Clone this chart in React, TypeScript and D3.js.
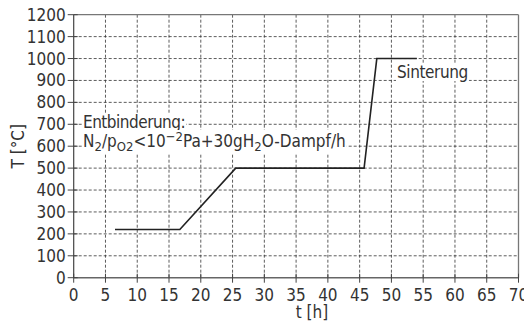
import { useEffect, useRef } from "react";
import * as d3 from "d3";

const times = [6.5, 16.7, 25.5, 45.7, 47.7, 54];
const temps = [220, 220, 500, 500, 1000, 1000];
const xTicks = [0, 5, 10, 15, 20, 25, 30, 35, 40, 45, 50, 55, 60, 65, 70];
const yTicks = [0, 100, 200, 300, 400, 500, 600, 700, 800, 900, 1000, 1100, 1200];

const FONT = "'Liberation Sans Narrow', 'Arial Narrow', 'DejaVu Sans Condensed', sans-serif";

const App = () => {
  const ref = useRef<SVGSVGElement | null>(null);

  useEffect(() => {
    if (!ref.current) return;
    const width = 524;
    const height = 324;
    const svg = d3.select(ref.current);
    svg.selectAll("*").remove();
    svg.attr("width", width).attr("height", height);

    const x = d3.scaleLinear().domain([0, 70]).range([73.7, 518.5]);
    const y = d3.scaleLinear().domain([0, 1200]).range([277.7, 14.7]);

    svg.append("rect").attr("width", width).attr("height", height).attr("fill", "#fff");

    // dashed grid
    const grid = svg.append("g").attr("stroke", "#333").attr("stroke-width", 0.8).attr("stroke-dasharray", "3,2");
    grid
      .selectAll("line.h")
      .data(yTicks.filter((d) => d > 0 && d < 1200))
      .join("line")
      .attr("x1", x(0))
      .attr("x2", x(70))
      .attr("y1", (d) => y(d))
      .attr("y2", (d) => y(d));
    grid
      .selectAll("line.v")
      .data(xTicks.filter((d) => d > 0 && d < 70))
      .join("line")
      .attr("class", "v")
      .attr("y1", y(0))
      .attr("y2", y(1200))
      .attr("x1", (d) => x(d))
      .attr("x2", (d) => x(d));

    // frame
    svg.append("line").attr("x1", x(0)).attr("x2", x(70)).attr("y1", y(1200)).attr("y2", y(1200)).attr("stroke", "#777").attr("stroke-width", 1.3);
    svg.append("line").attr("x1", x(70)).attr("x2", x(70)).attr("y1", y(1200)).attr("y2", y(0)).attr("stroke", "#777").attr("stroke-width", 1.3);
    svg.append("line").attr("x1", x(0)).attr("x2", x(70)).attr("y1", y(0)).attr("y2", y(0)).attr("stroke", "#666").attr("stroke-width", 1.6);
    svg.append("line").attr("x1", x(0)).attr("x2", x(0)).attr("y1", y(1200)).attr("y2", y(0)).attr("stroke", "#444").attr("stroke-width", 1.2);

    // ticks
    svg
      .append("g")
      .selectAll("line")
      .data(yTicks)
      .join("line")
      .attr("x1", x(0) - 6)
      .attr("x2", x(0) + 4)
      .attr("y1", (d) => y(d))
      .attr("y2", (d) => y(d))
      .attr("stroke", "#444")
      .attr("stroke-width", 1);
    svg
      .append("g")
      .selectAll("line")
      .data(xTicks)
      .join("line")
      .attr("x1", (d) => x(d))
      .attr("x2", (d) => x(d))
      .attr("y1", y(0) - 4)
      .attr("y2", y(0) + 5)
      .attr("stroke", "#444")
      .attr("stroke-width", 1);

    // tick labels
    svg
      .append("g")
      .selectAll("text")
      .data(yTicks)
      .join("text")
      .attr("x", x(0) - 8)
      .attr("y", (d) => y(d) + 6)
      .attr("text-anchor", "end")
      .attr("font-family", FONT)
      .attr("font-size", 17)
      .attr("fill", "#333")
      .text((d) => d);
    svg
      .append("g")
      .selectAll("text")
      .data(xTicks)
      .join("text")
      .attr("x", (d) => x(d))
      .attr("y", 301)
      .attr("text-anchor", "middle")
      .attr("font-family", FONT)
      .attr("font-size", 17)
      .attr("fill", "#333")
      .text((d) => d);

    // axis titles
    svg
      .append("text")
      .attr("transform", `translate(24, ${(y(0) + y(1200)) / 2}) rotate(-90)`)
      .attr("text-anchor", "middle")
      .attr("font-family", FONT)
      .attr("font-size", 17)
      .attr("fill", "#333")
      .text("T [°C]");
    svg
      .append("text")
      .attr("x", x(37.5))
      .attr("y", 318)
      .attr("text-anchor", "middle")
      .attr("font-family", FONT)
      .attr("font-size", 17)
      .attr("fill", "#333")
      .text("t [h]");

    // curve
    const pts = times.map((t, i) => [t, temps[i]] as [number, number]);
    const line = d3
      .line<[number, number]>()
      .x((d) => x(d[0]))
      .y((d) => y(d[1]));
    svg.append("path").attr("d", line(pts)).attr("fill", "none").attr("stroke", "#222").attr("stroke-width", 1.6);

    // annotations with white backgrounds
    const notes = svg.append("g").attr("font-family", FONT).attr("font-size", 17).attr("fill", "#333");
    const addBg = (el: SVGTextElement) => {
      const b = el.getBBox();
      notes
        .insert("rect", () => el)
        .attr("x", b.x - 1)
        .attr("y", b.y + 1)
        .attr("width", b.width + 2)
        .attr("height", b.height - 2)
        .attr("fill", "#fff");
    };

    const t1 = notes.append("text").attr("x", 83).attr("y", 128).attr("letter-spacing", -0.5).text("Entbinderung:");
    addBg(t1.node()!);

    const t2 = notes.append("text").attr("x", 83).attr("y", 147);
    const parts: [string, string][] = [
      ["N", "n"],
      ["2", "sub"],
      ["/p", "n"],
      ["O2", "sub"],
      ["<10", "n"],
      ["−2", "sup"],
      ["Pa+30gH", "n"],
      ["2", "sub"],
      ["O-Dampf/h", "n"],
    ];
    let shift = 0;
    parts.forEach(([s, k]) => {
      const target = k === "sub" ? 4 : k === "sup" ? -6 : 0;
      t2.append("tspan")
        .attr("dy", target - shift)
        .attr("font-size", k === "n" ? 17 : 13)
        .text(s);
      shift = target;
    });
    addBg(t2.node()!);

    const t3 = notes.append("text").attr("x", 397).attr("y", 78).attr("letter-spacing", -0.4).text("Sinterung");
    addBg(t3.node()!);
  }, []);

  return <svg ref={ref} style={{ position: "absolute", left: 0, top: 0 }}></svg>;
};

export default App;
